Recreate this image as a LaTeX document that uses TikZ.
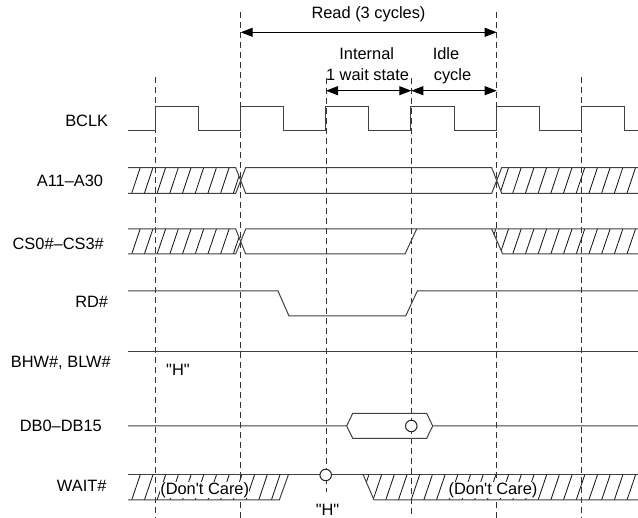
\documentclass[tikz,border=0pt]{standalone}
\usepackage{fontspec}
\newfontfamily\lsans{Liberation Sans}
\usetikzlibrary{arrows.meta}
\newcommand\mkhatch[2]{\foreach \k in {0,...,41}{\draw[hatchline] ({119+12.7*\k},#2) -- ++(8.5,{#1-#2});}}
\begin{document}
\begin{tikzpicture}[x=1pt,y=-1pt,
  sig/.style={draw=black!75, line width=1pt, line join=miter},
  hatchline/.style={draw=black!90, line width=0.85pt},
  guide/.style={draw=black!80, line width=0.9pt, dash pattern=on 6pt off 4pt},
  dim/.style={draw=black, line width=1pt, {Triangle[length=12pt,width=9pt]}-{Triangle[length=12pt,width=9pt]}},
  lbl/.style={font=\lsans\fontsize{16.4}{19}\selectfont, inner sep=0pt},
  probe/.style={draw=black!85, fill=white, line width=1pt, circle, minimum size=11.5pt, inner sep=0pt}
]
\useasboundingbox (0,0) rectangle (638,518);

% guide line ends
\coordinate (g1t) at (155,77);    \coordinate (g1b) at (155,518);
\coordinate (g2t) at (240.7,12);  \coordinate (g2b) at (240.7,518);
\coordinate (g3t) at (326,78);    \coordinate (g3b) at (326,492);
\coordinate (g4t) at (411.3,78);  \coordinate (g4b) at (411.3,518);
\coordinate (g5t) at (496.7,12);  \coordinate (g5b) at (496.7,518);
\coordinate (g6t) at (581.7,77);  \coordinate (g6b) at (581.7,518);
\foreach \i in {1,...,6} \draw[guide] (g\i t) -- (g\i b);

% dimension arrows
\coordinate (r1) at (240.7,32.3);
\coordinate (r2) at (496.7,32.3);
\coordinate (w1) at (326,90.7);
\coordinate (w2) at (411.3,90.7);
\coordinate (w3) at (496.7,90.7);
\draw[dim] (r1) -- (r2);
\draw[dim] (w1) -- (w2);
\draw[dim] (w2) -- (w3);

\node[lbl, anchor=base] (tRead) at (368.5,18.3) {Read (3 cycles)};
\node[lbl, anchor=base] (tInt) at (366.7,59.3) {Internal};
\node[lbl, anchor=base] (tWait) at (367.5,81) {1 wait state};
\node[lbl, anchor=base] (tIdle) at (446,59.3) {Idle};
\node[lbl, anchor=base] (tCyc) at (452.5,81) {cycle};

% BCLK
\draw[sig] (128.3,131) \foreach \k in {0,...,5}{ -- ({155+85.33*\k},131) -- ++(0,-24.3) -- ++(43.3,0) -- ++(0,24.3) } -- (638,131);

% A11-A30
\begin{scope}
\clip (128,167.7) -- (235.7,167.7) -- (240.7,180.5) -- (235.7,193.3) -- (128,193.3) -- cycle;
\mkhatch{167.7}{193.3}
\end{scope}
\begin{scope}
\clip (501.7,167.7) -- (638,167.7) -- (638,193.3) -- (501.7,193.3) -- (496.7,180.5) -- cycle;
\mkhatch{167.7}{193.3}
\end{scope}
\draw[sig] (128,167.7) -- (235.7,167.7) -- (245.7,193.3) -- (491.7,193.3) -- (501.7,167.7) -- (638,167.7);
\draw[sig] (128,193.3) -- (235.7,193.3) -- (245.7,167.7) -- (491.7,167.7) -- (501.7,193.3) -- (638,193.3);

% CS0#-CS3#
\begin{scope}
\clip (128,229) -- (235.7,229) -- (240.7,241.5) -- (235.7,254) -- (128,254) -- cycle;
\mkhatch{229}{254}
\end{scope}
\begin{scope}
\clip (491.7,229) -- (638,229) -- (638,254) -- (502.7,254) -- cycle;
\mkhatch{229}{254}
\end{scope}
\draw[sig] (128,229) -- (235.7,229) -- (245.7,254) -- (405,254) -- (416.7,229);
\draw[sig] (128,254) -- (235.7,254) -- (245.7,229) -- (638,229);
\draw[sig] (491.7,229) -- (502.7,254) -- (638,254);

% RD#
\draw[sig] (128,291) -- (278,291) -- (289,316) -- (405.7,316) -- (417.3,291) -- (638,291);

% BHW#, BLW#
\draw[sig] (128,352) -- (638,352);

% DB0-DB15
\draw[sig] (128,426) -- (346.7,426) -- (352.7,413.3) -- (426.7,413.3) -- (432.7,426) -- (638,426);
\draw[sig] (346.7,426) -- (352.7,438.3) -- (426.7,438.3) -- (432.7,426);
\node[probe] (pDB) at (411.3,426) {};

% WAIT#
\begin{scope}
\clip (128,475) -- (288.3,475) -- (279.3,500) -- (128,500) -- cycle;
\mkhatch{475}{500}
\end{scope}
\begin{scope}
\clip (363.3,475) -- (638,475) -- (638,500) -- (374,500) -- cycle;
\mkhatch{475}{500}
\end{scope}
\draw[sig] (128,475) -- (638,475);
\draw[sig] (128,500) -- (279.3,500) -- (288.3,475);
\draw[sig] (363.3,475) -- (374,500) -- (638,500);
\node[probe] (pW) at (325.7,475) {};

% labels
\node[lbl, anchor=base east] (lBCLK) at (108.3,126.7) {BCLK};
\node[lbl, anchor=base east] (lA) at (103.3,186.7) {A11–A30};
\node[lbl, anchor=base east] (lCS) at (104,249.3) {CS0\#–CS3\#};
\node[lbl, anchor=base east] (lRD) at (108.3,307.3) {RD\#};
\node[lbl, anchor=base east] (lBHW) at (111,367.7) {BHW\#, BLW\#};
\node[lbl, anchor=base west] (hH1) at (166,375.3) {"H"};
\node[lbl, anchor=base east] (lDB) at (102,431.7) {DB0–DB15};
\node[lbl, anchor=base east] (lW) at (106.7,492) {WAIT\#};
\node[lbl, anchor=base, fill=white] (dc1) at (204.7,494.3) {(Don't Care)};
\node[lbl, anchor=base, fill=white] (dc2) at (493,494.3) {(Don't Care)};
\node[lbl, anchor=base] (hH2) at (327.5,515.5) {"H"};
\end{tikzpicture}
\end{document}
